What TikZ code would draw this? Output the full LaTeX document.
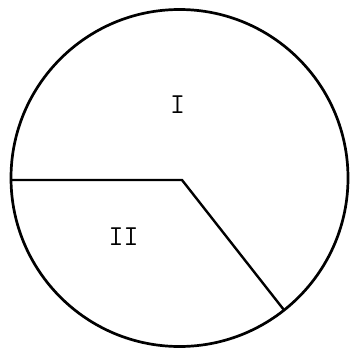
\documentclass[tikz,border=0pt]{standalone}
\usepackage{tikz}

\tikzset{
  rim/.style={line width=2.7pt},   % circle and radii
  lbl/.style={font=\ttfamily\fontsize{29}{29}\selectfont, inner sep=0pt}
}

\begin{document}
\begin{tikzpicture}[x=1pt,y=-1pt]
	\useasboundingbox (0,0) rectangle (352,348);
	% circle
	\coordinate (c) at (179.5,178);
	\draw[rim] (c) circle[radius=168.5];
	% radii
	\coordinate (o) at (182,180);
	\coordinate (l) at (11,180);
	\coordinate (r) at (284,310);
	\draw[rim, line width=2.4pt] (l) -- (o) -- (r);
	% labels
	\node[lbl] (one) at (177.5,105) {I};
	\node[lbl] (two) at (123.5,237) {II};
\end{tikzpicture}
\end{document}
